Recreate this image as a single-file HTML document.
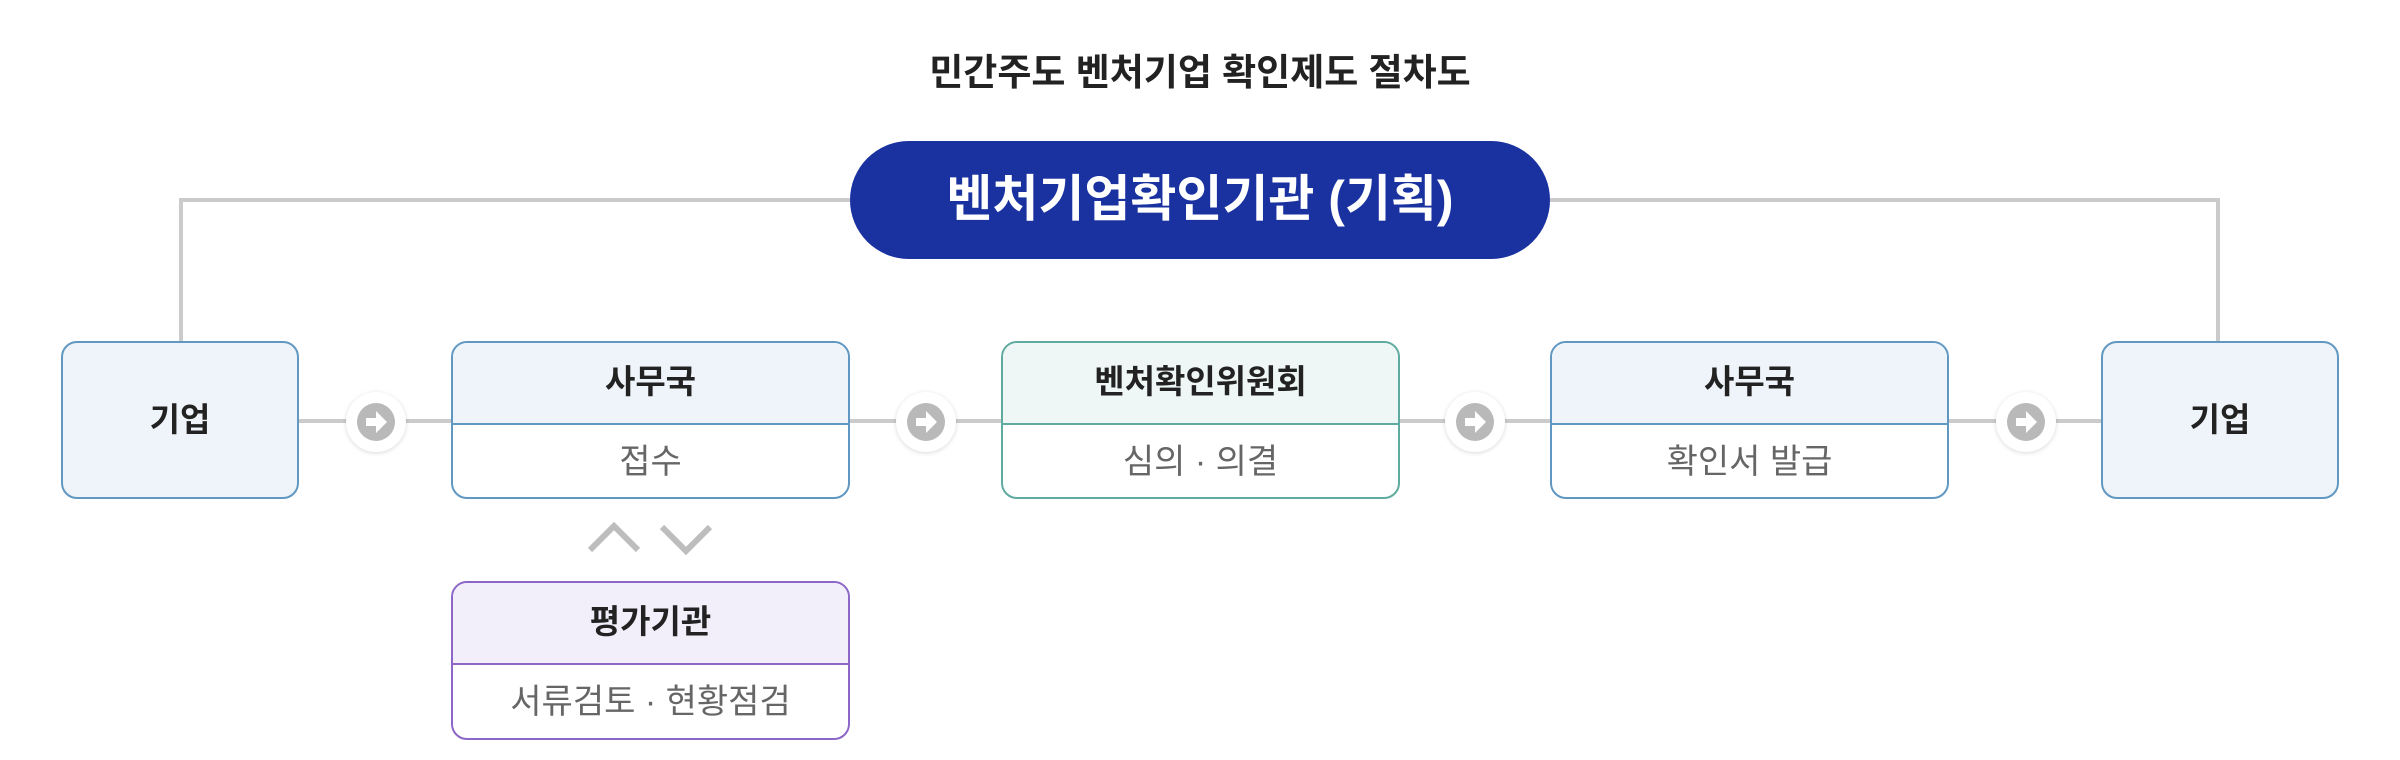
<!DOCTYPE html>
<html><head><meta charset="utf-8"><style>
body{margin:0;width:2400px;height:760px;background:#fff;position:relative;overflow:hidden;font-family:"Liberation Sans","Noto Sans CJK KR",sans-serif;}
.a{position:absolute;box-sizing:border-box;}
.title{left:0;width:2400px;top:42px;text-align:center;font-size:37px;font-weight:bold;color:#222;}
.pill{left:850px;top:141px;width:700px;height:118px;border-radius:59px;background:#1a32a0;color:#fff;font-size:50px;font-weight:bold;text-align:center;line-height:116px;}
.ln{background:#cbcbcb;}
.box{border:2px solid #6098c2;border-radius:16px;overflow:hidden;background:#fff;}
.hd{height:80px;line-height:78px;text-align:center;font-size:33px;font-weight:bold;color:#222;background:#eef4f9;border-bottom:2px solid #6098c2;}
.bd{height:76px;line-height:74px;text-align:center;font-size:34px;color:#666;}
.solo{background:#eef4f9;text-align:center;font-size:33px;font-weight:bold;color:#222;line-height:154px;}
.g{border-color:#5fab9f}.g .hd{background:#eef7f5;border-color:#5fab9f}
.p{border-color:#8c67c8}.p .hd{background:#f2eefa;border-color:#8c67c8}
.circ{width:60px;height:60px;border-radius:50%;background:#fff;box-shadow:0 1px 5px rgba(0,0,0,0.15);}
.in{position:absolute;left:11px;top:11px;width:38px;height:38px;border-radius:50%;background:#b9b9b9;}
</style></head><body>
<div class="a title">민간주도 벤처기업 확인제도 절차도</div>
<div class="a ln" style="left:179px;top:198px;width:671px;height:4px"></div>
<div class="a ln" style="left:179px;top:198px;width:4px;height:144px"></div>
<div class="a ln" style="left:1550px;top:198px;width:670px;height:4px"></div>
<div class="a ln" style="left:2216px;top:198px;width:4px;height:144px"></div>
<div class="a pill">벤처기업확인기관 (기획)</div>
<div class="a ln" style="left:298px;top:419px;width:1804px;height:4px"></div>

<div class="a box solo" style="left:61px;top:341px;width:238px;height:158px">기업</div>
<div class="a box" style="left:451px;top:341px;width:399px;height:158px"><div class="hd">사무국</div><div class="bd">접수</div></div>
<div class="a box g" style="left:1001px;top:341px;width:399px;height:158px"><div class="hd">벤처확인위원회</div><div class="bd">심의 · 의결</div></div>
<div class="a box" style="left:1550px;top:341px;width:399px;height:158px"><div class="hd">사무국</div><div class="bd">확인서 발급</div></div>
<div class="a box solo" style="left:2101px;top:341px;width:238px;height:158px">기업</div>
<div class="a box p" style="left:451px;top:581px;width:399px;height:159px"><div class="hd">평가기관</div><div class="bd">서류검토 · 현황점검</div></div>

<svg class="a" style="left:0;top:0" width="2400" height="760">
<g fill="none" stroke="#bdbdbd" stroke-width="6">
<polyline points="590,550 614,526 638,550"/>
<polyline points="662,527 686,551 710,527"/>
</g>
</svg>

<div class="a circ" style="left:346px;top:392px"><div class="in"></div><svg class="a" style="left:0;top:0" width="60" height="60"><path d="M20 26h10v-7l11 11-11 11v-7H20z" fill="#fff"/></svg></div>
<div class="a circ" style="left:896px;top:392px"><div class="in"></div><svg class="a" style="left:0;top:0" width="60" height="60"><path d="M20 26h10v-7l11 11-11 11v-7H20z" fill="#fff"/></svg></div>
<div class="a circ" style="left:1445px;top:392px"><div class="in"></div><svg class="a" style="left:0;top:0" width="60" height="60"><path d="M20 26h10v-7l11 11-11 11v-7H20z" fill="#fff"/></svg></div>
<div class="a circ" style="left:1996px;top:392px"><div class="in"></div><svg class="a" style="left:0;top:0" width="60" height="60"><path d="M20 26h10v-7l11 11-11 11v-7H20z" fill="#fff"/></svg></div>
</body></html>
